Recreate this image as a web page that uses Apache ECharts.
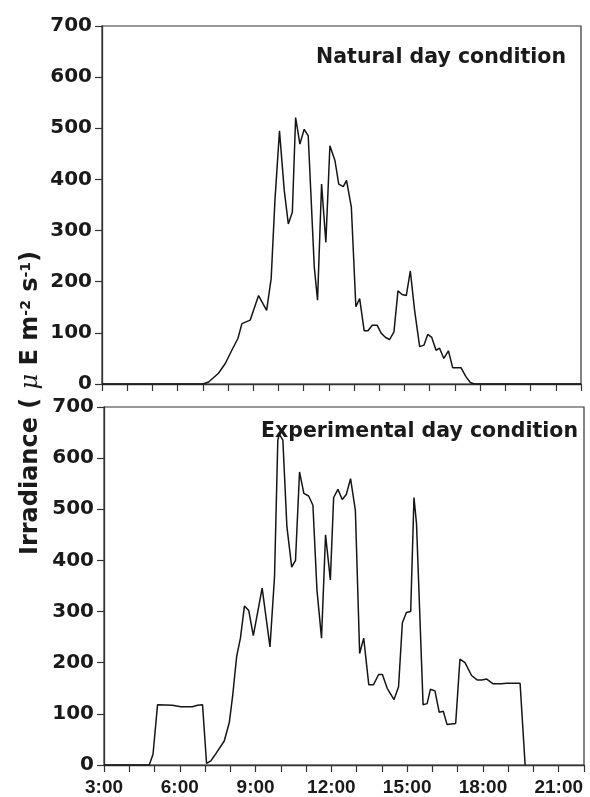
<!DOCTYPE html>
<html>
<head>
<meta charset="utf-8">
<script src="https://cdn.jsdelivr.net/npm/echarts@6/dist/echarts.min.js"></script>
<style>
  html, body { margin: 0; padding: 0; background: #fff; }
  #chart { width: 590px; height: 797px; }
</style>
</head>
<body>
<div id="chart"></div>
<script>
// time of day in decimal hours, irradiance in µE m-2 s-1
const natHours = [3, 7.0, 7.23, 7.62, 7.89, 8.15, 8.39, 8.55, 8.88, 9.21, 9.53, 9.71, 9.86,
  10.04, 10.23, 10.39, 10.55, 10.68, 10.85, 11.02, 11.18, 11.42, 11.55, 11.71, 11.88,
  12.04, 12.24, 12.39, 12.57, 12.70, 12.89, 13.07, 13.22, 13.40, 13.55, 13.72, 13.91,
  14.08, 14.25, 14.41, 14.58, 14.74, 14.90, 15.07, 15.23, 15.40, 15.60, 15.77, 15.92,
  16.08, 16.25, 16.39, 16.56, 16.74, 16.91, 17.24, 17.44, 17.61, 17.77, 22];
const natValues = [0, 0, 4, 21, 40, 66, 89, 118, 125, 173, 144, 206, 359,
  495, 378, 313, 336, 521, 469, 498, 485, 229, 164, 391, 277,
  466, 437, 391, 386, 398, 346, 151, 167, 104, 104, 115, 115,
  99, 91, 87, 102, 182, 175, 173, 221, 144, 73, 76, 97,
  91, 66, 70, 50, 65, 32, 32, 14, 3, 0, 0];

const expHours = [3, 4.79, 4.94, 5.12, 5.71, 6.04, 6.50, 6.70, 6.90, 7.06, 7.23, 7.37, 7.76, 7.96,
  8.09, 8.25, 8.40, 8.56, 8.73, 8.91, 9.26, 9.57, 9.75, 9.88, 9.94,
  10.08, 10.24, 10.43, 10.58, 10.74, 10.91, 11.10, 11.27, 11.43, 11.61, 11.77, 11.96,
  12.09, 12.26, 12.43, 12.59, 12.76, 12.95, 13.12, 13.28, 13.48, 13.67, 13.87,
  14.02, 14.21, 14.48, 14.66, 14.81, 14.97, 15.14, 15.27, 15.37, 15.63, 15.79, 15.92,
  16.10, 16.27, 16.43, 16.58, 16.92, 17.09, 17.29, 17.55, 17.78, 17.95,
  18.15, 18.39, 18.74, 18.94, 19.47, 19.67];
const expValues = [0, 0, 21, 118, 117, 114, 114, 117, 118, 3, 8, 18, 47, 83,
  134, 212, 248, 311, 302, 253, 346, 231, 368, 635, 647,
  635, 466, 387, 400, 573, 531, 526, 508, 342, 248, 450, 362,
  523, 539, 519, 529, 560, 498, 218, 248, 157, 157, 177,
  177, 150, 128, 153, 278, 298, 300, 523, 472, 118, 120, 148,
  145, 103, 105, 79, 81, 207, 200, 175, 166, 166,
  168, 159, 159, 160, 160, 0];

const hourTicks = [3, 6, 9, 12, 15, 18, 21];
const titles = ["Natural day condition", "Experimental day condition"];

const INK = "#1a1a1a";
const BORDER = "#333";

function pairs(xs, ys) {
  return xs.map((x, i) => [x, ys[i]]);
}

// shared axis look
function makeX(gridIndex, showLabels) {
  return {
    type: "value",
    gridIndex: gridIndex,
    min: 3,
    max: 22,
    interval: 1,
    splitLine: { show: false },
    axisLine: { show: true, onZero: false, lineStyle: { color: BORDER, width: 1.3 } },
    axisTick: { show: true, inside: false, length: 7, lineStyle: { color: BORDER, width: 1.2 } },
    axisLabel: {
      show: showLabels,
      margin: 13,
      color: INK,
      fontFamily: "Liberation Sans",
      fontWeight: "bold",
      fontSize: 19,
      formatter: (v) => (hourTicks.includes(v) ? v + ":00" : ""),
    },
  };
}

function makeY(gridIndex) {
  return {
    type: "value",
    gridIndex: gridIndex,
    min: 0,
    max: 700,
    interval: 100,
    splitLine: { show: false },
    axisLine: { show: true, lineStyle: { color: BORDER, width: 1.3 } },
    axisTick: { show: true, inside: false, length: 7, lineStyle: { color: BORDER, width: 1.2 } },
    axisLabel: {
      margin: 10,
      color: INK,
      fontFamily: "DejaVu Sans",
      fontWeight: "bold",
      fontSize: 20,
    },
  };
}

function lineSeries(idx, data) {
  return {
    type: "line",
    xAxisIndex: idx,
    yAxisIndex: idx,
    data: data,
    symbol: "none",
    lineStyle: { color: "#151515", width: 1.5 },
  };
}

const chart = echarts.init(document.getElementById("chart"));

const option = {
  animation: false,
  backgroundColor: "#fff",
  grid: [
    { left: 102, top: 26, width: 479, height: 358, show: true, borderColor: BORDER, borderWidth: 1.2 },
    { left: 104, top: 407, width: 480, height: 359, show: true, borderColor: BORDER, borderWidth: 1.2 },
  ],
  xAxis: [makeX(0, false), makeX(1, true)],
  yAxis: [makeY(0), makeY(1)],
  series: [
    lineSeries(0, pairs(natHours, natValues)),
    lineSeries(1, pairs(expHours, expValues)),
  ],
  graphic: [
    {
      type: "text",
      right: 24,
      top: 47,
      style: {
        text: titles[0],
        fill: INK,
        font: "bold 20.5px 'DejaVu Sans'",
      },
    },
    {
      type: "text",
      right: 12,
      top: 421,
      style: {
        text: titles[1],
        fill: INK,
        font: "bold 20.5px 'DejaVu Sans'",
      },
    },
    {
      // y axis name, rotated, spans both panels
      type: "text",
      x: 31,
      y: 403,
      rotation: Math.PI / 2,
      style: {
        text: "Irradiance ( {mu|μ} E m{sup|-2} s{sup|-1})",
        fill: INK,
        font: "bold 24px 'DejaVu Sans'",
        align: "center",
        verticalAlign: "middle",
        rich: {
          mu: { fontFamily: "DejaVu Serif", fontStyle: "italic", fontSize: 24, fill: INK },
          sup: { fontFamily: "DejaVu Sans", fontWeight: "bold", fontSize: 14, verticalAlign: "top", fill: INK },
        },
      },
    },
  ],
};

chart.setOption(option);
</script>
</body>
</html>
